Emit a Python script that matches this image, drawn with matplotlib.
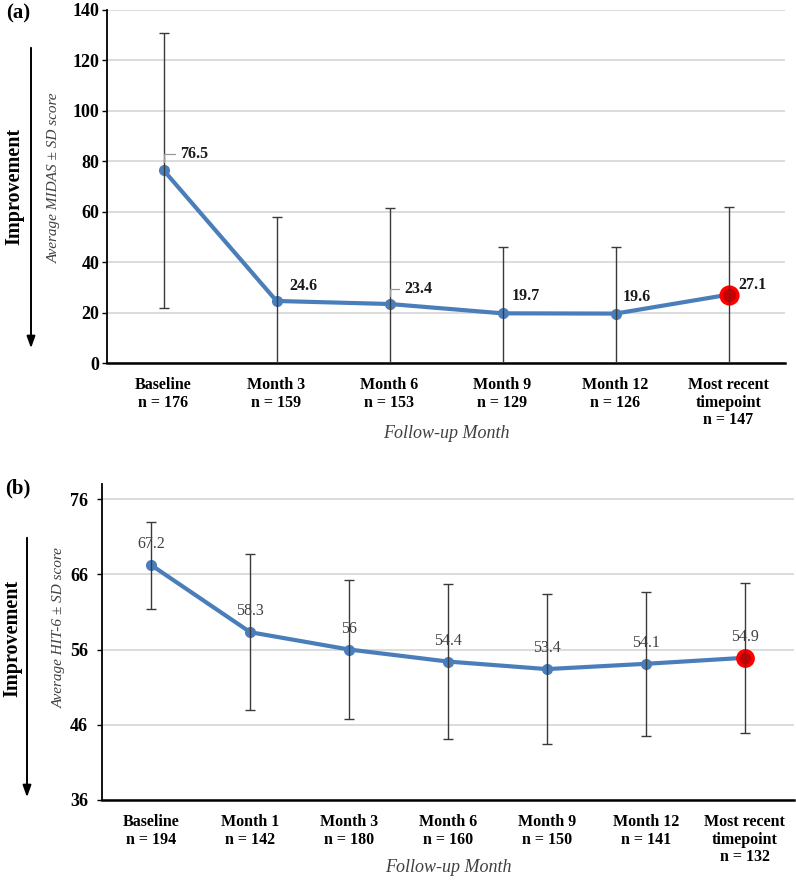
import numpy as np
import matplotlib
matplotlib.use('Agg')
import matplotlib.pyplot as plt

plt.rcParams['font.family'] = ['Liberation Serif', 'DejaVu Serif']

# ---------------- data ----------------
midas_categories = ['Baseline\nn = 176', 'Month 3\nn = 159', 'Month 6\nn = 153',
                    'Month 9\nn = 129', 'Month 12\nn = 126', 'Most recent\ntimepoint\nn = 147']
midas_mean = [76.5, 24.6, 23.4, 19.7, 19.6, 27.1]
midas_sd = [54.5, 33.2, 38.0, 26.3, 26.4, 34.7]
midas_labels = ['76.5', '24.6', '23.4', '19.7', '19.6', '27.1']
midas_ticks = [0, 20, 40, 60, 80, 100, 120, 140]

hit6_categories = ['Baseline\nn = 194', 'Month 1\nn = 142', 'Month 3\nn = 180', 'Month 6\nn = 160',
                   'Month 9\nn = 150', 'Month 12\nn = 141', 'Most recent\ntimepoint\nn = 132']
hit6_mean = [67.2, 58.3, 56.0, 54.4, 53.4, 54.1, 54.9]
hit6_sd = [5.8, 10.4, 9.2, 10.3, 10.0, 9.6, 10.0]
hit6_labels = ['67.2', '58.3', '56', '54.4', '53.4', '54.1', '54.9']
hit6_ticks = [36, 46, 56, 66, 76]

# ---------------- style ----------------
BLUE = '#4A7EBB'
ERR = '#3A3A3A'
GRID = '#D9D9D9'
TXT = '#404040'

fig = plt.figure(figsize=(7.96, 8.8), dpi=100)
axA = fig.add_axes([107/796, 1-363/880, (785-107)/796, (363-10)/880])
axB = fig.add_axes([102/796, 1-800/880, (794-102)/796, (800-484)/880])


def style_axis(ax, ticks, ylim, cats, tickpad):
    ax.set_ylim(*ylim)
    ax.set_yticks(ticks)
    ax.set_xlim(-0.5, len(cats) - 0.5)
    ax.set_xticks(np.arange(len(cats)))
    ax.set_xticklabels(cats, fontweight='bold', fontsize=11.5, linespacing=1.15)
    for lab in ax.get_yticklabels():
        lab.set_fontweight('bold')
        lab.set_fontsize(13)
    ax.tick_params(axis='x', length=0, pad=10)
    ax.tick_params(axis='y', length=3.6, width=1, pad=tickpad)
    ax.grid(axis='y', color=GRID, lw=1.3)
    ax.set_axisbelow(True)
    for s in ['top', 'right']:
        ax.spines[s].set_visible(False)
    ax.spines['left'].set_linewidth(1.3)
    ax.spines['bottom'].set_linewidth(1.8)


def draw_series(ax, mean, sd, msize_last):
    x = np.arange(len(mean))
    ax.plot(x, mean, color=BLUE, lw=3, marker='o', ms=7, zorder=3,
            solid_joinstyle='round')
    ax.plot(x[-1], mean[-1], 'o', ms=msize_last, mfc='#C80000', mec='#FF0000', mew=2.5, zorder=4)
    ax.errorbar(x, mean, yerr=sd, fmt='none', ecolor=ERR, elinewidth=1, capsize=3.5,
                capthick=1, zorder=5)
    return x


# ---------------- panel (a) ----------------
style_axis(axA, midas_ticks, (0, 140), midas_categories, 2)
xa = draw_series(axA, midas_mean, midas_sd, 12)
offs_a = [(31, 16), (27, 15), (29, 15), (23, 17), (21, 17), (24, 10)]
leader = [True, False, True, False, False, False]
for i, (xi, yi, lab) in enumerate(zip(xa, midas_mean, midas_labels)):
    kw = {}
    if leader[i]:
        kw['arrowprops'] = dict(arrowstyle='-', color='#999999', lw=0.9,
                                connectionstyle='angle,angleA=180,angleB=90,rad=0',
                                shrinkA=2, shrinkB=6)
    axA.annotate(lab, (xi, yi), xytext=offs_a[i], textcoords='offset pixels',
                 ha='center', va='center', fontweight='bold', fontsize=11.5,
                 color='#1A1A1A', zorder=6, **kw)
axA.text(-0.077, (363-178)/353, 'Average MIDAS ± SD score', rotation=90, transform=axA.transAxes,
         ha='center', va='center', style='italic', fontsize=11, color=TXT)
axA.text(0.5, (363-434)/353, 'Follow-up Month', transform=axA.transAxes, ha='center', va='center',
         style='italic', fontsize=13, color=TXT)

# ---------------- panel (b) ----------------
style_axis(axB, hit6_ticks, (36, 78), hit6_categories, 6.5)
xb = draw_series(axB, hit6_mean, hit6_sd, 11)
for xi, yi, lab in zip(xb, hit6_mean, hit6_labels):
    axB.annotate(lab, (xi, yi), xytext=(0, 21), textcoords='offset pixels',
                 ha='center', va='center', fontsize=11.5, color=TXT, zorder=6)
axB.text(-0.062, (800-627.5)/316, 'Average HIT-6 ± SD score', rotation=90, transform=axB.transAxes,
         ha='center', va='center', style='italic', fontsize=11, color=TXT)
axB.text(0.5, (800-867)/316, 'Follow-up Month', transform=axB.transAxes, ha='center', va='center',
         style='italic', fontsize=13, color=TXT)

# ---------------- figure decorations ----------------
fig.text(0.023, 1-13/880, '(a)', ha='center', va='center', fontweight='bold', fontsize=15)
fig.text(0.023, 1-488/880, '(b)', ha='center', va='center', fontweight='bold', fontsize=15)

fig.text(14/796, 1-186/880, 'Improvement', rotation=90, ha='center', va='center',
         fontweight='bold', fontsize=14.5)
fig.text(12/796, 1-638/880, 'Improvement', rotation=90, ha='center', va='center',
         fontweight='bold', fontsize=14.5)
arrow_kw = dict(arrowstyle='-|>,head_length=0.7,head_width=0.25', color='black', lw=1.4)
axA.annotate('', xy=(31/796, 1-351/880), xytext=(31/796, 1-45/880), xycoords='figure fraction',
             textcoords='figure fraction', arrowprops=arrow_kw, annotation_clip=False)
axB.annotate('', xy=(27/796, 1-800/880), xytext=(27/796, 1-535/880), xycoords='figure fraction',
             textcoords='figure fraction', arrowprops=arrow_kw, annotation_clip=False)

fig.savefig('out.png', dpi=100)
